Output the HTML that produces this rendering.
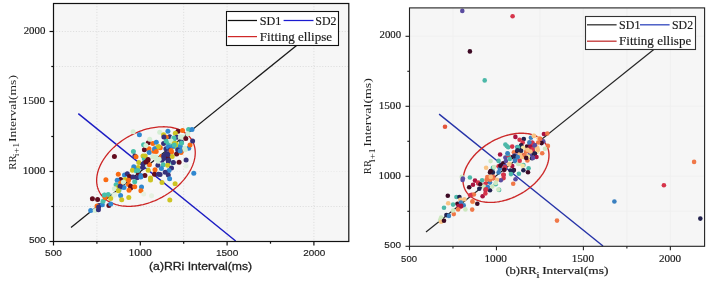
<!DOCTYPE html>
<html><head><meta charset="utf-8"><style>
html,body{margin:0;padding:0;background:#fff;}
body{width:708px;height:283px;overflow:hidden;position:relative;}
svg{position:absolute;left:0;top:0;will-change:transform;}
.serif{font-family:"Liberation Serif",serif;}
.sans{font-family:"Liberation Sans",sans-serif;}
</style></head><body>
<svg width="708" height="283" viewBox="0 0 708 283">
<rect x="53.50" y="3.50" width="295.30" height="238.00" fill="#f6f6f6"/>
<line x1="96.90" y1="3.50" x2="96.90" y2="241.50" stroke="#d4d4d4" stroke-width="0.8" stroke-dasharray="1 1.8"/>
<line x1="183.70" y1="3.50" x2="183.70" y2="241.50" stroke="#d4d4d4" stroke-width="0.8" stroke-dasharray="1 1.8"/>
<line x1="227.10" y1="3.50" x2="227.10" y2="241.50" stroke="#d4d4d4" stroke-width="0.8" stroke-dasharray="1 1.8"/>
<line x1="313.90" y1="3.50" x2="313.90" y2="241.50" stroke="#d4d4d4" stroke-width="0.8" stroke-dasharray="1 1.8"/>
<line x1="53.50" y1="206.50" x2="348.80" y2="206.50" stroke="#d4d4d4" stroke-width="0.8" stroke-dasharray="1 1.8"/>
<line x1="53.50" y1="66.50" x2="348.80" y2="66.50" stroke="#d4d4d4" stroke-width="0.8" stroke-dasharray="1 1.8"/>
<line x1="53.50" y1="31.50" x2="348.80" y2="31.50" stroke="#d4d4d4" stroke-width="0.8" stroke-dasharray="1 1.8"/>
<line x1="53.5" y1="171.50" x2="348.8" y2="171.50" stroke="#e6e6e6" stroke-width="0.8" stroke-dasharray="1 1.8"/>
<line x1="71" y1="227.5" x2="313.90" y2="31.50" stroke="#1a1a1a" stroke-width="1.25"/>
<line x1="78.3" y1="113.6" x2="235.7" y2="241" stroke="#1c1cc4" stroke-width="1.45"/>
<path d="M186.45 133.86 L185.45 133.09 L184.39 132.36 L183.29 131.67 L182.14 131.02 L180.95 130.42 L179.72 129.86 L178.45 129.35 L177.13 128.88 L175.78 128.46 L174.39 128.08 L172.97 127.75 L171.51 127.47 L170.03 127.23 L168.51 127.04 L166.97 126.90 L165.40 126.81 L163.81 126.77 L162.19 126.78 L160.56 126.83 L158.90 126.93 L157.24 127.08 L155.55 127.28 L153.86 127.53 L152.16 127.82 L150.45 128.17 L148.73 128.55 L147.01 128.99 L145.29 129.47 L143.57 129.99 L141.85 130.56 L140.14 131.18 L138.43 131.83 L136.74 132.53 L135.05 133.27 L133.38 134.05 L131.73 134.87 L130.09 135.73 L128.47 136.63 L126.87 137.56 L125.29 138.53 L123.74 139.53 L122.22 140.57 L120.73 141.64 L119.26 142.73 L117.83 143.86 L116.43 145.01 L115.07 146.19 L113.75 147.40 L112.47 148.63 L111.22 149.88 L110.02 151.15 L108.87 152.44 L107.75 153.74 L106.69 155.06 L105.67 156.40 L104.70 157.75 L103.79 159.11 L102.92 160.48 L102.10 161.85 L101.34 163.23 L100.64 164.62 L99.99 166.00 L99.39 167.39 L98.85 168.78 L98.37 170.16 L97.95 171.54 L97.58 172.92 L97.28 174.28 L97.03 175.64 L96.84 176.98 L96.71 178.32 L96.65 179.63 L96.64 180.94 L96.69 182.22 L96.81 183.49 L96.98 184.73 L97.21 185.95 L97.50 187.15 L97.85 188.33 L98.26 189.47 L98.73 190.59 L99.25 191.68 L99.84 192.74 L100.47 193.77 L101.17 194.77 L101.92 195.73 L102.72 196.65 L103.57 197.54 L104.48 198.39 L105.43 199.20 L106.44 199.97 L107.49 200.70 L108.59 201.39 L109.74 202.04 L110.93 202.64 L112.16 203.20 L113.44 203.71 L114.75 204.18 L116.10 204.60 L117.49 204.98 L118.91 205.31 L120.37 205.59 L121.86 205.83 L123.37 206.02 L124.92 206.16 L126.48 206.25 L128.08 206.29 L129.69 206.28 L131.33 206.23 L132.98 206.13 L134.65 205.98 L136.33 205.78 L138.02 205.53 L139.73 205.24 L141.44 204.89 L143.15 204.51 L144.87 204.07 L146.59 203.59 L148.31 203.07 L150.03 202.50 L151.74 201.88 L153.45 201.23 L155.15 200.53 L156.83 199.79 L158.50 199.01 L160.16 198.19 L161.80 197.33 L163.42 196.43 L165.02 195.50 L166.59 194.53 L168.14 193.53 L169.66 192.49 L171.16 191.42 L172.62 190.33 L174.05 189.20 L175.45 188.05 L176.81 186.87 L178.13 185.66 L179.42 184.43 L180.66 183.18 L181.86 181.91 L183.02 180.62 L184.13 179.32 L185.19 178.00 L186.21 176.66 L187.18 175.31 L188.10 173.95 L188.97 172.58 L189.78 171.21 L190.54 169.83 L191.25 168.44 L191.90 167.06 L192.49 165.67 L193.03 164.28 L193.51 162.90 L193.94 161.52 L194.30 160.14 L194.61 158.78 L194.86 157.42 L195.04 156.08 L195.17 154.74 L195.24 153.43 L195.24 152.12 L195.19 150.84 L195.08 149.57 L194.91 148.33 L194.67 147.11 L194.38 145.91 L194.03 144.73 L193.62 143.59 L193.15 142.47 L192.63 141.38 L192.05 140.32 L191.41 139.29 L190.72 138.29 L189.97 137.33 L189.17 136.41 L188.31 135.52 L187.41 134.67 L186.45 133.86Z" fill="none" stroke="#cc2424" stroke-width="1.3"/>
<circle cx="133.1" cy="131.8" r="2.5" fill="#d4eed4"/>
<circle cx="139.4" cy="134.7" r="2.5" fill="#3088d0"/>
<circle cx="143.6" cy="144.8" r="2.5" fill="#48c0aa"/>
<circle cx="148.3" cy="142.7" r="2.5" fill="#630c1e"/>
<circle cx="152.9" cy="143.4" r="2.5" fill="#fa6a12"/>
<circle cx="156.3" cy="142.3" r="2.5" fill="#3088d0"/>
<circle cx="149.7" cy="139.2" r="2.5" fill="#d4eed4"/>
<circle cx="144.4" cy="149.8" r="2.5" fill="#630c1e"/>
<circle cx="149.0" cy="148.8" r="2.5" fill="#fa6a12"/>
<circle cx="149.2" cy="152.6" r="2.5" fill="#3088d0"/>
<circle cx="153.9" cy="151.2" r="2.5" fill="#fa6a12"/>
<circle cx="133.4" cy="151.6" r="2.5" fill="#48c0aa"/>
<circle cx="114.4" cy="156.4" r="2.5" fill="#630c1e"/>
<circle cx="134.8" cy="155.9" r="2.5" fill="#36307a"/>
<circle cx="136.0" cy="156.8" r="2.5" fill="#fa6a12"/>
<circle cx="143.0" cy="155.9" r="2.5" fill="#cdc422"/>
<circle cx="156.7" cy="147.7" r="2.5" fill="#cdc422"/>
<circle cx="167.9" cy="131.3" r="2.5" fill="#3088d0"/>
<circle cx="178.0" cy="131.3" r="2.5" fill="#630c1e"/>
<circle cx="182.5" cy="130.4" r="2.5" fill="#fa6a12"/>
<circle cx="159.7" cy="132.2" r="2.5" fill="#d4eed4"/>
<circle cx="163.6" cy="134.7" r="2.5" fill="#cdc422"/>
<circle cx="175.3" cy="133.3" r="2.5" fill="#cdc422"/>
<circle cx="169.6" cy="136.7" r="2.5" fill="#36307a"/>
<circle cx="166.2" cy="137.2" r="2.5" fill="#fa6a12"/>
<circle cx="173.2" cy="138.0" r="2.5" fill="#d4eed4"/>
<circle cx="176.9" cy="137.2" r="2.5" fill="#36307a"/>
<circle cx="173.8" cy="140.9" r="2.5" fill="#48c0aa"/>
<circle cx="181.4" cy="142.0" r="2.5" fill="#36307a"/>
<circle cx="181.4" cy="137.0" r="2.5" fill="#d4eed4"/>
<circle cx="163.6" cy="143.5" r="2.5" fill="#36307a"/>
<circle cx="168.2" cy="143.2" r="2.5" fill="#48c0aa"/>
<circle cx="172.1" cy="146.0" r="2.5" fill="#48c0aa"/>
<circle cx="176.1" cy="143.7" r="2.5" fill="#cdc422"/>
<circle cx="180.0" cy="146.0" r="2.5" fill="#48c0aa"/>
<circle cx="160.3" cy="147.7" r="2.5" fill="#fa6a12"/>
<circle cx="154.6" cy="148.8" r="2.5" fill="#3088d0"/>
<circle cx="165.9" cy="148.8" r="2.5" fill="#36307a"/>
<circle cx="168.2" cy="147.1" r="2.5" fill="#3088d0"/>
<circle cx="170.4" cy="150.0" r="2.5" fill="#36307a"/>
<circle cx="175.5" cy="146.6" r="2.5" fill="#cdc422"/>
<circle cx="177.8" cy="149.4" r="2.5" fill="#3088d0"/>
<circle cx="181.7" cy="150.5" r="2.5" fill="#fa6a12"/>
<circle cx="145.9" cy="145.4" r="2.5" fill="#d4eed4"/>
<circle cx="138.8" cy="162.6" r="2.5" fill="#cdc422"/>
<circle cx="143.0" cy="164.0" r="2.5" fill="#36307a"/>
<circle cx="133.8" cy="166.8" r="2.5" fill="#3088d0"/>
<circle cx="156.2" cy="151.4" r="2.5" fill="#fa6a12"/>
<circle cx="144.3" cy="158.8" r="2.5" fill="#48c0aa"/>
<circle cx="147.7" cy="160.7" r="2.5" fill="#630c1e"/>
<circle cx="152.8" cy="156.8" r="2.5" fill="#d4eed4"/>
<circle cx="156.2" cy="159.0" r="2.5" fill="#d4eed4"/>
<circle cx="144.3" cy="163.0" r="2.5" fill="#36307a"/>
<circle cx="147.7" cy="165.8" r="2.5" fill="#d4eed4"/>
<circle cx="149.4" cy="164.7" r="2.5" fill="#fa6a12"/>
<circle cx="157.9" cy="165.3" r="2.5" fill="#36307a"/>
<circle cx="138.1" cy="167.5" r="2.5" fill="#cdc422"/>
<circle cx="142.6" cy="167.5" r="2.5" fill="#36307a"/>
<circle cx="134.1" cy="168.1" r="2.5" fill="#3088d0"/>
<circle cx="132.4" cy="170.3" r="2.5" fill="#cdc422"/>
<circle cx="136.4" cy="170.9" r="2.5" fill="#48c0aa"/>
<circle cx="148.2" cy="170.3" r="2.5" fill="#cdc422"/>
<circle cx="155.0" cy="169.8" r="2.5" fill="#fa6a12"/>
<circle cx="154.5" cy="174.3" r="2.5" fill="#630c1e"/>
<circle cx="138.6" cy="173.7" r="2.5" fill="#630c1e"/>
<circle cx="140.9" cy="175.4" r="2.5" fill="#3088d0"/>
<circle cx="144.9" cy="175.4" r="2.5" fill="#630c1e"/>
<circle cx="150.5" cy="178.0" r="2.5" fill="#cdc422"/>
<circle cx="124.5" cy="174.9" r="2.5" fill="#3088d0"/>
<circle cx="127.3" cy="173.7" r="2.5" fill="#36307a"/>
<circle cx="129.6" cy="176.6" r="2.5" fill="#630c1e"/>
<circle cx="133.0" cy="177.1" r="2.5" fill="#36307a"/>
<circle cx="137.0" cy="177.7" r="2.5" fill="#36307a"/>
<circle cx="125.1" cy="179.4" r="2.5" fill="#cdc422"/>
<circle cx="128.5" cy="180.3" r="2.5" fill="#fa6a12"/>
<circle cx="120.6" cy="179.4" r="2.5" fill="#630c1e"/>
<circle cx="158.4" cy="161.3" r="2.5" fill="#d4eed4"/>
<circle cx="158.4" cy="174.3" r="2.5" fill="#36307a"/>
<circle cx="105.9" cy="179.7" r="2.5" fill="#fa6a12"/>
<circle cx="118.3" cy="174.3" r="2.5" fill="#fa6a12"/>
<circle cx="117.2" cy="180.3" r="2.5" fill="#3088d0"/>
<circle cx="120.6" cy="182.9" r="2.5" fill="#fa6a12"/>
<circle cx="116.1" cy="184.8" r="2.5" fill="#48c0aa"/>
<circle cx="123.4" cy="182.0" r="2.5" fill="#d4eed4"/>
<circle cx="117.8" cy="187.6" r="2.5" fill="#cdc422"/>
<circle cx="121.2" cy="187.0" r="2.5" fill="#36307a"/>
<circle cx="124.0" cy="187.6" r="2.5" fill="#3088d0"/>
<circle cx="114.4" cy="188.7" r="2.5" fill="#d4eed4"/>
<circle cx="118.9" cy="190.4" r="2.5" fill="#48c0aa"/>
<circle cx="104.8" cy="195.3" r="2.5" fill="#3088d0"/>
<circle cx="108.2" cy="194.6" r="2.5" fill="#48c0aa"/>
<circle cx="113.8" cy="195.0" r="2.5" fill="#d4eed4"/>
<circle cx="120.6" cy="195.5" r="2.5" fill="#3088d0"/>
<circle cx="128.5" cy="184.5" r="2.5" fill="#fa6a12"/>
<circle cx="130.7" cy="186.2" r="2.5" fill="#630c1e"/>
<circle cx="130.7" cy="187.9" r="2.5" fill="#630c1e"/>
<circle cx="129.0" cy="190.2" r="2.5" fill="#fa6a12"/>
<circle cx="134.7" cy="181.7" r="2.5" fill="#48c0aa"/>
<circle cx="134.7" cy="186.8" r="2.5" fill="#fa6a12"/>
<circle cx="141.5" cy="187.0" r="2.5" fill="#3088d0"/>
<circle cx="140.9" cy="190.7" r="2.5" fill="#fa6a12"/>
<circle cx="143.7" cy="194.1" r="2.5" fill="#e6f1e2"/>
<circle cx="151.6" cy="195.8" r="2.5" fill="#e6f1e2"/>
<circle cx="121.7" cy="199.8" r="2.5" fill="#cdc422"/>
<circle cx="128.8" cy="197.5" r="2.5" fill="#cdc422"/>
<circle cx="120.0" cy="186.2" r="2.5" fill="#36307a"/>
<circle cx="150.5" cy="180.0" r="2.5" fill="#cdc422"/>
<circle cx="180.4" cy="146.9" r="2.5" fill="#3088d0"/>
<circle cx="188.7" cy="148.2" r="2.5" fill="#3088d0"/>
<circle cx="190.0" cy="145.0" r="2.5" fill="#fa6a12"/>
<circle cx="171.5" cy="152.0" r="2.5" fill="#fa6a12"/>
<circle cx="176.6" cy="153.9" r="2.5" fill="#630c1e"/>
<circle cx="181.0" cy="152.6" r="2.5" fill="#fa6a12"/>
<circle cx="165.2" cy="155.2" r="2.5" fill="#36307a"/>
<circle cx="167.7" cy="157.7" r="2.5" fill="#630c1e"/>
<circle cx="172.2" cy="156.4" r="2.5" fill="#cdc422"/>
<circle cx="161.4" cy="156.4" r="2.5" fill="#fa6a12"/>
<circle cx="162.0" cy="160.2" r="2.5" fill="#36307a"/>
<circle cx="168.3" cy="161.5" r="2.5" fill="#36307a"/>
<circle cx="179.1" cy="162.2" r="2.5" fill="#630c1e"/>
<circle cx="186.1" cy="160.0" r="2.5" fill="#36307a"/>
<circle cx="172.8" cy="162.8" r="2.5" fill="#48c0aa"/>
<circle cx="163.3" cy="164.7" r="2.5" fill="#48c0aa"/>
<circle cx="167.7" cy="165.3" r="2.5" fill="#cdc422"/>
<circle cx="186.1" cy="166.0" r="2.5" fill="#e6f1e2"/>
<circle cx="161.4" cy="168.5" r="2.5" fill="#3088d0"/>
<circle cx="171.5" cy="167.9" r="2.5" fill="#36307a"/>
<circle cx="169.0" cy="170.4" r="2.5" fill="#3088d0"/>
<circle cx="165.2" cy="172.3" r="2.5" fill="#36307a"/>
<circle cx="160.1" cy="174.5" r="2.5" fill="#36307a"/>
<circle cx="168.3" cy="174.9" r="2.5" fill="#36307a"/>
<circle cx="193.8" cy="173.2" r="2.5" fill="#3088d0"/>
<circle cx="169.6" cy="178.7" r="2.5" fill="#3088d0"/>
<circle cx="188.6" cy="129.6" r="2.5" fill="#48c0aa"/>
<circle cx="192.0" cy="129.6" r="2.5" fill="#3088d0"/>
<circle cx="183.0" cy="137.0" r="2.5" fill="#d4eed4"/>
<circle cx="185.8" cy="138.6" r="2.5" fill="#630c1e"/>
<circle cx="192.6" cy="140.9" r="2.5" fill="#36307a"/>
<circle cx="180.2" cy="137.0" r="2.5" fill="#d4eed4"/>
<circle cx="174.0" cy="138.1" r="2.5" fill="#48c0aa"/>
<circle cx="172.8" cy="146.6" r="2.5" fill="#3088d0"/>
<circle cx="184.7" cy="148.2" r="2.5" fill="#d4eed4"/>
<circle cx="171.1" cy="150.5" r="2.5" fill="#fa6a12"/>
<circle cx="177.9" cy="150.0" r="2.5" fill="#36307a"/>
<circle cx="180.2" cy="151.1" r="2.5" fill="#3088d0"/>
<circle cx="92.4" cy="198.7" r="2.5" fill="#630c1e"/>
<circle cx="97.6" cy="199.5" r="2.5" fill="#630c1e"/>
<circle cx="90.7" cy="210.4" r="2.5" fill="#3088d0"/>
<circle cx="95.2" cy="210.4" r="2.5" fill="#d4eed4"/>
<circle cx="98.4" cy="209.7" r="2.5" fill="#36307a"/>
<circle cx="99.0" cy="205.5" r="2.5" fill="#36307a"/>
<circle cx="97.0" cy="205.9" r="2.5" fill="#fa6a12"/>
<circle cx="102.3" cy="204.8" r="2.5" fill="#3088d0"/>
<circle cx="103.0" cy="201.2" r="2.5" fill="#48c0aa"/>
<circle cx="105.1" cy="197.4" r="2.5" fill="#fa6a12"/>
<circle cx="104.4" cy="194.9" r="2.5" fill="#48c0aa"/>
<circle cx="110.7" cy="198.4" r="2.5" fill="#cdc422"/>
<circle cx="108.9" cy="205.5" r="2.5" fill="#630c1e"/>
<circle cx="110.7" cy="204.1" r="2.5" fill="#3088d0"/>
<circle cx="162.0" cy="182.4" r="2.5" fill="#cdc422"/>
<circle cx="175.1" cy="183.8" r="2.5" fill="#cdc422"/>
<circle cx="169.8" cy="200.1" r="2.5" fill="#cdc422"/>
<circle cx="118.3" cy="190.7" r="2.5" fill="#cdc422"/>
<circle cx="115.0" cy="194.7" r="2.5" fill="#e6f1e2"/>
<circle cx="98.6" cy="207.1" r="2.5" fill="#36307a"/>
<circle cx="166.1" cy="141.1" r="2.5" fill="#48c0aa"/>
<circle cx="171.1" cy="141.1" r="2.5" fill="#d4eed4"/>
<circle cx="174.2" cy="143.5" r="2.5" fill="#cdc422"/>
<circle cx="181.6" cy="142.9" r="2.5" fill="#48c0aa"/>
<circle cx="187.8" cy="133.7" r="2.5" fill="#d4eed4"/>
<circle cx="185.3" cy="149.7" r="2.5" fill="#d4eed4"/>
<circle cx="166.7" cy="153.4" r="2.5" fill="#36307a"/>
<circle cx="158.7" cy="146.6" r="2.5" fill="#cdc422"/>
<circle cx="163.7" cy="155.9" r="2.5" fill="#36307a"/>
<circle cx="163.9" cy="136.9" r="2.5" fill="#36307a"/>
<circle cx="167.9" cy="154.5" r="2.5" fill="#36307a"/>
<circle cx="163.9" cy="158.4" r="2.5" fill="#36307a"/>
<circle cx="168.7" cy="160.0" r="2.5" fill="#36307a"/>
<circle cx="174.2" cy="144.9" r="2.5" fill="#48c0aa"/>
<circle cx="155.9" cy="156.8" r="2.5" fill="#d4eed4"/>
<circle cx="159.1" cy="159.2" r="2.5" fill="#d4eed4"/>
<circle cx="173.4" cy="162.4" r="2.5" fill="#36307a"/>
<circle cx="137.9" cy="170.5" r="2.5" fill="#48c0aa"/>
<circle cx="140.8" cy="176.9" r="2.5" fill="#3088d0"/>
<circle cx="145.2" cy="156.0" r="2.5" fill="#cdc422"/>
<circle cx="148.1" cy="159.4" r="2.5" fill="#630c1e"/>
<circle cx="146.0" cy="162.0" r="2.5" fill="#630c1e"/>
<rect x="409.50" y="7.90" width="295.10" height="238.40" fill="#f6f6f6"/>
<line x1="452.98" y1="7.90" x2="452.98" y2="246.30" stroke="#efefef" stroke-width="0.8"/>
<line x1="539.92" y1="7.90" x2="539.92" y2="246.30" stroke="#efefef" stroke-width="0.8"/>
<line x1="583.40" y1="7.90" x2="583.40" y2="246.30" stroke="#efefef" stroke-width="0.8"/>
<line x1="626.88" y1="7.90" x2="626.88" y2="246.30" stroke="#efefef" stroke-width="0.8"/>
<line x1="670.35" y1="7.90" x2="670.35" y2="246.30" stroke="#efefef" stroke-width="0.8"/>
<line x1="409.50" y1="211.30" x2="704.60" y2="211.30" stroke="#efefef" stroke-width="0.8"/>
<line x1="409.50" y1="176.30" x2="704.60" y2="176.30" stroke="#efefef" stroke-width="0.8"/>
<line x1="409.50" y1="106.30" x2="704.60" y2="106.30" stroke="#efefef" stroke-width="0.8"/>
<line x1="409.50" y1="36.30" x2="704.60" y2="36.30" stroke="#efefef" stroke-width="0.8"/>
<line x1="426" y1="232" x2="670.35" y2="36.30" stroke="#262626" stroke-width="1.2"/>
<line x1="439.1" y1="114.1" x2="603" y2="246" stroke="#2633a8" stroke-width="1.4"/>
<path d="M541.49 139.27 L540.62 138.61 L539.71 137.98 L538.76 137.39 L537.77 136.83 L536.74 136.32 L535.68 135.84 L534.58 135.40 L533.44 135.00 L532.27 134.64 L531.07 134.32 L529.83 134.04 L528.57 133.81 L527.28 133.61 L525.97 133.46 L524.63 133.35 L523.26 133.28 L521.88 133.25 L520.48 133.26 L519.06 133.32 L517.62 133.42 L516.17 133.56 L514.71 133.74 L513.23 133.96 L511.75 134.23 L510.26 134.53 L508.77 134.88 L507.27 135.27 L505.77 135.69 L504.27 136.16 L502.77 136.66 L501.28 137.20 L499.79 137.78 L498.31 138.40 L496.84 139.05 L495.38 139.74 L493.94 140.46 L492.51 141.21 L491.09 142.00 L489.70 142.82 L488.32 143.66 L486.96 144.54 L485.63 145.45 L484.32 146.38 L483.04 147.34 L481.79 148.33 L480.57 149.34 L479.37 150.37 L478.21 151.42 L477.09 152.49 L476.00 153.58 L474.94 154.69 L473.93 155.82 L472.95 156.96 L472.01 158.11 L471.12 159.27 L470.26 160.45 L469.46 161.63 L468.69 162.82 L467.97 164.02 L467.30 165.22 L466.67 166.43 L466.09 167.63 L465.56 168.84 L465.08 170.05 L464.65 171.25 L464.27 172.45 L463.95 173.64 L463.67 174.83 L463.44 176.00 L463.27 177.17 L463.15 178.33 L463.08 179.47 L463.06 180.60 L463.09 181.72 L463.18 182.81 L463.32 183.89 L463.51 184.95 L463.75 185.99 L464.05 187.00 L464.39 188.00 L464.79 188.97 L465.24 189.91 L465.73 190.82 L466.28 191.71 L466.87 192.57 L467.51 193.40 L468.20 194.20 L468.94 194.96 L469.72 195.69 L470.54 196.39 L471.41 197.05 L472.32 197.68 L473.27 198.27 L474.26 198.83 L475.28 199.34 L476.35 199.82 L477.45 200.26 L478.59 200.66 L479.76 201.02 L480.96 201.34 L482.20 201.62 L483.46 201.85 L484.75 202.05 L486.06 202.20 L487.40 202.31 L488.77 202.38 L490.15 202.41 L491.55 202.40 L492.97 202.34 L494.41 202.24 L495.86 202.10 L497.32 201.92 L498.80 201.70 L500.28 201.43 L501.77 201.13 L503.26 200.78 L504.76 200.39 L506.26 199.97 L507.76 199.50 L509.26 199.00 L510.75 198.46 L512.24 197.88 L513.72 197.26 L515.19 196.61 L516.64 195.92 L518.09 195.20 L519.52 194.45 L520.94 193.66 L522.33 192.84 L523.71 192.00 L525.07 191.12 L526.40 190.21 L527.71 189.28 L528.99 188.32 L530.24 187.33 L531.46 186.32 L532.65 185.29 L533.81 184.24 L534.94 183.17 L536.03 182.08 L537.09 180.97 L538.10 179.84 L539.08 178.70 L540.02 177.55 L540.91 176.39 L541.76 175.21 L542.57 174.03 L543.34 172.84 L544.06 171.64 L544.73 170.44 L545.36 169.23 L545.94 168.03 L546.46 166.82 L546.94 165.61 L547.37 164.41 L547.75 163.21 L548.08 162.02 L548.36 160.83 L548.59 159.66 L548.76 158.49 L548.88 157.33 L548.95 156.19 L548.97 155.06 L548.94 153.94 L548.85 152.85 L548.71 151.77 L548.52 150.71 L548.28 149.67 L547.98 148.66 L547.64 147.66 L547.24 146.69 L546.79 145.75 L546.30 144.84 L545.75 143.95 L545.16 143.09 L544.52 142.26 L543.83 141.46 L543.09 140.70 L542.31 139.97 L541.49 139.27Z" fill="none" stroke="#cc2a2a" stroke-width="1.4"/>
<circle cx="462.3" cy="10.9" r="2.3" fill="#5a4ca0"/>
<circle cx="512.6" cy="16.2" r="2.3" fill="#d6344a"/>
<circle cx="469.9" cy="51.4" r="2.3" fill="#3d0a24"/>
<circle cx="484.7" cy="80.4" r="2.3" fill="#4cb8a8"/>
<circle cx="445.0" cy="126.8" r="2.3" fill="#e4563c"/>
<circle cx="557.0" cy="220.6" r="2.3" fill="#f07848"/>
<circle cx="614.4" cy="201.5" r="2.3" fill="#3a80c0"/>
<circle cx="663.9" cy="185.2" r="2.3" fill="#d6344a"/>
<circle cx="694.1" cy="161.9" r="2.3" fill="#f07848"/>
<circle cx="700.3" cy="218.6" r="2.3" fill="#22224e"/>
<circle cx="447.8" cy="195.7" r="2.3" fill="#3d0a24"/>
<circle cx="448.2" cy="203.2" r="2.3" fill="#f9c283"/>
<circle cx="444.0" cy="207.7" r="2.3" fill="#4cb8a8"/>
<circle cx="453.1" cy="204.6" r="2.3" fill="#4cb8a8"/>
<circle cx="446.4" cy="215.1" r="2.3" fill="#22224e"/>
<circle cx="448.9" cy="215.9" r="2.3" fill="#3a80c0"/>
<circle cx="441.1" cy="217.6" r="2.3" fill="#cde8c0"/>
<circle cx="440.1" cy="220.1" r="2.3" fill="#cde8c0"/>
<circle cx="441.1" cy="221.8" r="2.3" fill="#f9c283"/>
<circle cx="444.0" cy="220.7" r="2.3" fill="#3d0a24"/>
<circle cx="453.8" cy="214.1" r="2.3" fill="#f07848"/>
<circle cx="453.1" cy="210.5" r="2.3" fill="#cde8c0"/>
<circle cx="456.4" cy="197.0" r="2.3" fill="#4cb8a8"/>
<circle cx="459.4" cy="197.0" r="2.3" fill="#22224e"/>
<circle cx="464.3" cy="199.2" r="2.3" fill="#f9c283"/>
<circle cx="460.3" cy="199.8" r="2.3" fill="#f9c283"/>
<circle cx="457.5" cy="203.7" r="2.3" fill="#3d0a24"/>
<circle cx="460.9" cy="202.6" r="2.3" fill="#3a80c0"/>
<circle cx="458.6" cy="206.0" r="2.3" fill="#a8123f"/>
<circle cx="463.7" cy="205.4" r="2.3" fill="#3a80c0"/>
<circle cx="460.9" cy="206.6" r="2.3" fill="#d6344a"/>
<circle cx="458.1" cy="209.4" r="2.3" fill="#f07848"/>
<circle cx="465.4" cy="209.4" r="2.3" fill="#cde8c0"/>
<circle cx="472.2" cy="209.6" r="2.3" fill="#f07848"/>
<circle cx="472.8" cy="202.0" r="2.3" fill="#f9c283"/>
<circle cx="477.3" cy="203.7" r="2.3" fill="#3d0a24"/>
<circle cx="471.6" cy="194.7" r="2.3" fill="#d6344a"/>
<circle cx="473.9" cy="194.5" r="2.3" fill="#f07848"/>
<circle cx="469.2" cy="187.3" r="2.3" fill="#3d0a24"/>
<circle cx="473.0" cy="184.7" r="2.3" fill="#a8123f"/>
<circle cx="475.0" cy="180.6" r="2.3" fill="#a8123f"/>
<circle cx="478.4" cy="183.4" r="2.3" fill="#a8123f"/>
<circle cx="462.6" cy="180.0" r="2.3" fill="#5a4ca0"/>
<circle cx="461.8" cy="176.9" r="2.3" fill="#cde8c0"/>
<circle cx="462.9" cy="178.6" r="2.3" fill="#5a4ca0"/>
<circle cx="469.9" cy="177.5" r="2.3" fill="#4cb8a8"/>
<circle cx="478.2" cy="182.6" r="2.3" fill="#d6344a"/>
<circle cx="480.4" cy="184.3" r="2.3" fill="#3d0a24"/>
<circle cx="482.1" cy="180.3" r="2.3" fill="#4cb8a8"/>
<circle cx="486.6" cy="179.8" r="2.3" fill="#f07848"/>
<circle cx="485.5" cy="183.7" r="2.3" fill="#d6344a"/>
<circle cx="490.0" cy="182.6" r="2.3" fill="#3a80c0"/>
<circle cx="486.1" cy="167.7" r="2.3" fill="#f9c283"/>
<circle cx="490.0" cy="172.4" r="2.3" fill="#3d0a24"/>
<circle cx="492.9" cy="167.9" r="2.3" fill="#4cb8a8"/>
<circle cx="490.6" cy="161.1" r="2.3" fill="#cde8c0"/>
<circle cx="492.9" cy="176.4" r="2.3" fill="#f07848"/>
<circle cx="479.3" cy="188.8" r="2.3" fill="#22224e"/>
<circle cx="483.8" cy="186.6" r="2.3" fill="#cde8c0"/>
<circle cx="485.5" cy="189.9" r="2.3" fill="#a8123f"/>
<circle cx="490.0" cy="190.3" r="2.3" fill="#22224e"/>
<circle cx="492.9" cy="172.4" r="2.3" fill="#22224e"/>
<circle cx="487.8" cy="187.1" r="2.3" fill="#3a80c0"/>
<circle cx="505.4" cy="144.5" r="2.3" fill="#4cb8a8"/>
<circle cx="508.2" cy="147.3" r="2.3" fill="#4cb8a8"/>
<circle cx="512.2" cy="146.6" r="2.3" fill="#d6344a"/>
<circle cx="500.1" cy="154.5" r="2.3" fill="#a8123f"/>
<circle cx="513.9" cy="152.2" r="2.3" fill="#f07848"/>
<circle cx="517.3" cy="151.3" r="2.3" fill="#3d0a24"/>
<circle cx="516.2" cy="155.8" r="2.3" fill="#5a4ca0"/>
<circle cx="505.4" cy="157.5" r="2.3" fill="#5a4ca0"/>
<circle cx="508.2" cy="155.3" r="2.3" fill="#d6344a"/>
<circle cx="512.8" cy="157.0" r="2.3" fill="#3d0a24"/>
<circle cx="498.6" cy="160.9" r="2.3" fill="#4cb8a8"/>
<circle cx="503.2" cy="163.2" r="2.3" fill="#3d0a24"/>
<circle cx="515.0" cy="159.8" r="2.3" fill="#3a80c0"/>
<circle cx="509.4" cy="163.7" r="2.3" fill="#f3e3a0"/>
<circle cx="494.1" cy="167.1" r="2.3" fill="#cde8c0"/>
<circle cx="498.6" cy="166.2" r="2.3" fill="#d6344a"/>
<circle cx="499.8" cy="168.8" r="2.3" fill="#3a80c0"/>
<circle cx="504.3" cy="169.4" r="2.3" fill="#a8123f"/>
<circle cx="512.2" cy="166.0" r="2.3" fill="#a8123f"/>
<circle cx="504.9" cy="166.0" r="2.3" fill="#5a4ca0"/>
<circle cx="510.5" cy="170.5" r="2.3" fill="#22224e"/>
<circle cx="513.9" cy="170.0" r="2.3" fill="#3d0a24"/>
<circle cx="490.7" cy="171.1" r="2.3" fill="#3d0a24"/>
<circle cx="515.4" cy="136.9" r="2.3" fill="#a8123f"/>
<circle cx="519.6" cy="139.7" r="2.3" fill="#d6344a"/>
<circle cx="523.8" cy="139.1" r="2.3" fill="#22224e"/>
<circle cx="522.7" cy="142.5" r="2.3" fill="#d6344a"/>
<circle cx="530.9" cy="137.7" r="2.3" fill="#3a80c0"/>
<circle cx="533.7" cy="135.7" r="2.3" fill="#f3e3a0"/>
<circle cx="538.8" cy="138.3" r="2.3" fill="#f9c283"/>
<circle cx="543.9" cy="134.0" r="2.3" fill="#a8123f"/>
<circle cx="547.3" cy="133.5" r="2.3" fill="#f07848"/>
<circle cx="543.3" cy="141.4" r="2.3" fill="#5a4ca0"/>
<circle cx="541.6" cy="143.1" r="2.3" fill="#3d0a24"/>
<circle cx="538.2" cy="142.5" r="2.3" fill="#f07848"/>
<circle cx="521.3" cy="145.3" r="2.3" fill="#3d0a24"/>
<circle cx="517.3" cy="147.0" r="2.3" fill="#3a80c0"/>
<circle cx="529.8" cy="143.1" r="2.3" fill="#5a4ca0"/>
<circle cx="527.0" cy="146.5" r="2.3" fill="#3d0a24"/>
<circle cx="532.6" cy="144.8" r="2.3" fill="#d6344a"/>
<circle cx="534.3" cy="146.5" r="2.3" fill="#3a80c0"/>
<circle cx="537.1" cy="147.6" r="2.3" fill="#f9c283"/>
<circle cx="547.9" cy="145.9" r="2.3" fill="#f07848"/>
<circle cx="545.0" cy="148.7" r="2.3" fill="#cde8c0"/>
<circle cx="520.7" cy="149.3" r="2.3" fill="#22224e"/>
<circle cx="528.6" cy="151.0" r="2.3" fill="#f07848"/>
<circle cx="532.6" cy="150.4" r="2.3" fill="#a8123f"/>
<circle cx="537.1" cy="151.6" r="2.3" fill="#f3e3a0"/>
<circle cx="521.3" cy="153.8" r="2.3" fill="#f9c283"/>
<circle cx="530.9" cy="154.4" r="2.3" fill="#22224e"/>
<circle cx="534.9" cy="153.8" r="2.3" fill="#3d0a24"/>
<circle cx="542.2" cy="153.2" r="2.3" fill="#f07848"/>
<circle cx="514.5" cy="155.5" r="2.3" fill="#5a4ca0"/>
<circle cx="523.6" cy="155.5" r="2.3" fill="#d6344a"/>
<circle cx="534.0" cy="135.9" r="2.3" fill="#f9c283"/>
<circle cx="540.2" cy="138.7" r="2.3" fill="#f07848"/>
<circle cx="532.3" cy="142.7" r="2.3" fill="#a8123f"/>
<circle cx="505.9" cy="161.1" r="2.3" fill="#5a4ca0"/>
<circle cx="509.3" cy="164.5" r="2.3" fill="#f9c283"/>
<circle cx="515.0" cy="161.1" r="2.3" fill="#3a80c0"/>
<circle cx="518.3" cy="164.0" r="2.3" fill="#cde8c0"/>
<circle cx="523.4" cy="165.1" r="2.3" fill="#4cb8a8"/>
<circle cx="513.2" cy="170.7" r="2.3" fill="#22224e"/>
<circle cx="523.4" cy="170.2" r="2.3" fill="#22224e"/>
<circle cx="498.6" cy="172.4" r="2.3" fill="#3a80c0"/>
<circle cx="503.6" cy="174.7" r="2.3" fill="#a8123f"/>
<circle cx="511.0" cy="174.1" r="2.3" fill="#4cb8a8"/>
<circle cx="518.9" cy="173.8" r="2.3" fill="#4cb8a8"/>
<circle cx="503.6" cy="178.1" r="2.3" fill="#d6344a"/>
<circle cx="500.8" cy="180.3" r="2.3" fill="#5a4ca0"/>
<circle cx="515.5" cy="179.2" r="2.3" fill="#5a4ca0"/>
<circle cx="487.3" cy="177.0" r="2.3" fill="#f07848"/>
<circle cx="493.5" cy="178.1" r="2.3" fill="#d6344a"/>
<circle cx="496.9" cy="179.8" r="2.3" fill="#f9c283"/>
<circle cx="490.1" cy="179.8" r="2.3" fill="#f07848"/>
<circle cx="513.2" cy="183.7" r="2.3" fill="#f07848"/>
<circle cx="495.7" cy="184.3" r="2.3" fill="#4cb8a8"/>
<circle cx="492.3" cy="186.6" r="2.3" fill="#cde8c0"/>
<circle cx="499.1" cy="189.9" r="2.3" fill="#4cb8a8"/>
<circle cx="486.1" cy="189.4" r="2.3" fill="#d6344a"/>
<circle cx="482.6" cy="196.3" r="2.3" fill="#a8123f"/>
<circle cx="485.4" cy="193.5" r="2.3" fill="#d6344a"/>
<circle cx="498.4" cy="189.5" r="2.3" fill="#cde8c0"/>
<circle cx="470.2" cy="195.2" r="2.3" fill="#d6344a"/>
<circle cx="472.4" cy="201.4" r="2.3" fill="#f07848"/>
<circle cx="461.1" cy="205.9" r="2.3" fill="#a8123f"/>
<circle cx="537.6" cy="150.3" r="2.3" fill="#f3e3a0"/>
<circle cx="534.8" cy="153.6" r="2.3" fill="#22224e"/>
<circle cx="536.5" cy="157.0" r="2.3" fill="#a8123f"/>
<circle cx="532.0" cy="158.2" r="2.3" fill="#22224e"/>
<circle cx="529.7" cy="154.8" r="2.3" fill="#5a4ca0"/>
<circle cx="523.5" cy="157.0" r="2.3" fill="#f9c283"/>
<circle cx="527.4" cy="160.4" r="2.3" fill="#f07848"/>
<circle cx="515.6" cy="156.5" r="2.3" fill="#3a80c0"/>
<circle cx="519.5" cy="163.8" r="2.3" fill="#cde8c0"/>
<circle cx="528.6" cy="168.3" r="2.3" fill="#4cb8a8"/>
<circle cx="528.0" cy="172.3" r="2.3" fill="#3d0a24"/>
<circle cx="532.3" cy="142.9" r="2.3" fill="#d6344a"/>
<circle cx="529.4" cy="142.4" r="2.3" fill="#3a80c0"/>
<circle cx="534.8" cy="145.3" r="2.3" fill="#5a4ca0"/>
<circle cx="520.9" cy="145.8" r="2.3" fill="#22224e"/>
<circle cx="518.0" cy="147.3" r="2.3" fill="#4cb8a8"/>
<circle cx="517.5" cy="150.3" r="2.3" fill="#22224e"/>
<circle cx="530.3" cy="146.8" r="2.3" fill="#a8123f"/>
<circle cx="532.3" cy="149.3" r="2.3" fill="#d6344a"/>
<circle cx="537.8" cy="149.8" r="2.3" fill="#f9c283"/>
<circle cx="506.8" cy="146.0" r="2.3" fill="#4cb8a8"/>
<circle cx="507.8" cy="153.9" r="2.3" fill="#4cb8a8"/>
<circle cx="519.7" cy="154.4" r="2.3" fill="#f9c283"/>
<circle cx="521.7" cy="156.9" r="2.3" fill="#f9c283"/>
<circle cx="509.8" cy="158.9" r="2.3" fill="#4cb8a8"/>
<circle cx="519.7" cy="160.8" r="2.3" fill="#d6344a"/>
<circle cx="504.9" cy="167.3" r="2.3" fill="#d6344a"/>
<circle cx="522.7" cy="165.8" r="2.3" fill="#f3e3a0"/>
<circle cx="500.4" cy="165.8" r="2.3" fill="#3d0a24"/>
<circle cx="523.2" cy="147.7" r="2.3" fill="#f3e3a0"/>
<circle cx="521.1" cy="150.7" r="2.3" fill="#22224e"/>
<circle cx="526.2" cy="151.5" r="2.3" fill="#f07848"/>
<circle cx="527.5" cy="149.8" r="2.3" fill="#f9c283"/>
<circle cx="530.4" cy="151.5" r="2.3" fill="#f9c283"/>
<circle cx="507.5" cy="153.2" r="2.3" fill="#3a80c0"/>
<circle cx="514.3" cy="156.2" r="2.3" fill="#22224e"/>
<circle cx="524.9" cy="155.3" r="2.3" fill="#f07848"/>
<circle cx="527.9" cy="156.6" r="2.3" fill="#f3e3a0"/>
<circle cx="533.0" cy="157.9" r="2.3" fill="#5a4ca0"/>
<circle cx="517.7" cy="157.0" r="2.3" fill="#3a80c0"/>
<circle cx="526.2" cy="157.9" r="2.3" fill="#3d0a24"/>
<circle cx="504.3" cy="169.7" r="2.3" fill="#3d0a24"/>
<circle cx="503.4" cy="174.8" r="2.3" fill="#d6344a"/>
<circle cx="492.8" cy="178.2" r="2.3" fill="#f07848"/>
<circle cx="495.8" cy="182.9" r="2.3" fill="#cde8c0"/>
<circle cx="490.7" cy="177.0" r="2.3" fill="#f9c283"/>
<rect x="53.50" y="3.50" width="295.30" height="238.00" fill="none" stroke="#111" stroke-width="1.2"/>
<line x1="53.50" y1="241.50" x2="53.50" y2="245.50" stroke="#111" stroke-width="1.2"/>
<line x1="53.50" y1="241.50" x2="49.50" y2="241.50" stroke="#111" stroke-width="1.2"/>
<line x1="96.90" y1="241.50" x2="96.90" y2="243.70" stroke="#111" stroke-width="1.2"/>
<line x1="53.50" y1="206.50" x2="51.30" y2="206.50" stroke="#111" stroke-width="1.2"/>
<line x1="140.30" y1="241.50" x2="140.30" y2="245.50" stroke="#111" stroke-width="1.2"/>
<line x1="53.50" y1="171.50" x2="49.50" y2="171.50" stroke="#111" stroke-width="1.2"/>
<line x1="183.70" y1="241.50" x2="183.70" y2="243.70" stroke="#111" stroke-width="1.2"/>
<line x1="53.50" y1="136.50" x2="51.30" y2="136.50" stroke="#111" stroke-width="1.2"/>
<line x1="227.10" y1="241.50" x2="227.10" y2="245.50" stroke="#111" stroke-width="1.2"/>
<line x1="53.50" y1="101.50" x2="49.50" y2="101.50" stroke="#111" stroke-width="1.2"/>
<line x1="270.50" y1="241.50" x2="270.50" y2="243.70" stroke="#111" stroke-width="1.2"/>
<line x1="53.50" y1="66.50" x2="51.30" y2="66.50" stroke="#111" stroke-width="1.2"/>
<line x1="313.90" y1="241.50" x2="313.90" y2="245.50" stroke="#111" stroke-width="1.2"/>
<line x1="53.50" y1="31.50" x2="49.50" y2="31.50" stroke="#111" stroke-width="1.2"/>
<rect x="409.50" y="7.90" width="295.10" height="238.40" fill="none" stroke="#222" stroke-width="1.1"/>
<line x1="409.50" y1="246.30" x2="409.50" y2="250.30" stroke="#222" stroke-width="1.1"/>
<line x1="409.50" y1="246.30" x2="405.50" y2="246.30" stroke="#222" stroke-width="1.1"/>
<line x1="452.98" y1="246.30" x2="452.98" y2="248.50" stroke="#222" stroke-width="1.1"/>
<line x1="409.50" y1="211.30" x2="407.30" y2="211.30" stroke="#222" stroke-width="1.1"/>
<line x1="496.45" y1="246.30" x2="496.45" y2="250.30" stroke="#222" stroke-width="1.1"/>
<line x1="409.50" y1="176.30" x2="405.50" y2="176.30" stroke="#222" stroke-width="1.1"/>
<line x1="539.92" y1="246.30" x2="539.92" y2="248.50" stroke="#222" stroke-width="1.1"/>
<line x1="409.50" y1="141.30" x2="407.30" y2="141.30" stroke="#222" stroke-width="1.1"/>
<line x1="583.40" y1="246.30" x2="583.40" y2="250.30" stroke="#222" stroke-width="1.1"/>
<line x1="409.50" y1="106.30" x2="405.50" y2="106.30" stroke="#222" stroke-width="1.1"/>
<line x1="626.88" y1="246.30" x2="626.88" y2="248.50" stroke="#222" stroke-width="1.1"/>
<line x1="409.50" y1="71.30" x2="407.30" y2="71.30" stroke="#222" stroke-width="1.1"/>
<line x1="670.35" y1="246.30" x2="670.35" y2="250.30" stroke="#222" stroke-width="1.1"/>
<line x1="409.50" y1="36.30" x2="405.50" y2="36.30" stroke="#222" stroke-width="1.1"/>
<rect x="226.5" y="11.5" width="112.0" height="34.0" fill="#fff" stroke="#111" stroke-width="1.1"/>
<line x1="227.8" y1="20.5" x2="257" y2="20.5" stroke="#111" stroke-width="1.25"/>
<line x1="283.6" y1="20.5" x2="313.5" y2="20.5" stroke="#1a1ad0" stroke-width="1.25"/>
<line x1="227.8" y1="36.6" x2="257" y2="36.6" stroke="#d02828" stroke-width="1.25"/>
<rect x="585.5" y="16.5" width="110.0" height="33.0" fill="#fff" stroke="#333" stroke-width="1.1"/>
<line x1="587" y1="24.8" x2="616.6" y2="24.8" stroke="#3a3a3a" stroke-width="1.35"/>
<line x1="640" y1="24.8" x2="669.6" y2="24.8" stroke="#3a4ec0" stroke-width="1.35"/>
<line x1="587" y1="41.2" x2="616.6" y2="41.2" stroke="#c43a3a" stroke-width="1.35"/>
<text x="259.72" y="24.69" font-family="Liberation Serif, serif" font-size="11.50" text-anchor="start" fill="#1a1a1a" stroke="#1a1a1a" stroke-width="0.15" textLength="21.63" lengthAdjust="spacingAndGlyphs">SD1</text>
<text x="315.37" y="24.69" font-family="Liberation Serif, serif" font-size="11.50" text-anchor="start" fill="#1a1a1a" stroke="#1a1a1a" stroke-width="0.15" textLength="21.20" lengthAdjust="spacingAndGlyphs">SD2</text>
<text x="259.86" y="41.14" font-family="Liberation Serif, serif" font-size="11.50" text-anchor="start" fill="#1a1a1a" stroke="#1a1a1a" stroke-width="0.15" textLength="72.22" lengthAdjust="spacingAndGlyphs">Fitting ellipse</text>
<text x="619.10" y="29.27" font-family="Liberation Serif, serif" font-size="11.50" text-anchor="start" fill="#1a1a1a" stroke="#1a1a1a" stroke-width="0.15" textLength="21.31" lengthAdjust="spacingAndGlyphs">SD1</text>
<text x="672.04" y="29.27" font-family="Liberation Serif, serif" font-size="11.50" text-anchor="start" fill="#1a1a1a" stroke="#1a1a1a" stroke-width="0.15" textLength="21.03" lengthAdjust="spacingAndGlyphs">SD2</text>
<text x="619.12" y="45.27" font-family="Liberation Serif, serif" font-size="11.50" text-anchor="start" fill="#1a1a1a" stroke="#1a1a1a" stroke-width="0.15" textLength="72.09" lengthAdjust="spacingAndGlyphs">Fitting ellispe</text>
<text x="45.34" y="34.09" font-family="Liberation Serif, serif" font-size="9.80" text-anchor="end" fill="#1a1a1a" stroke="#1a1a1a" stroke-width="0.15" textLength="21.67" lengthAdjust="spacingAndGlyphs">2000</text>
<text x="45.00" y="104.30" font-family="Liberation Serif, serif" font-size="9.80" text-anchor="end" fill="#1a1a1a" stroke="#1a1a1a" stroke-width="0.15" textLength="22.50" lengthAdjust="spacingAndGlyphs">1500</text>
<text x="45.32" y="174.37" font-family="Liberation Serif, serif" font-size="9.80" text-anchor="end" fill="#1a1a1a" stroke="#1a1a1a" stroke-width="0.15" textLength="22.65" lengthAdjust="spacingAndGlyphs">1000</text>
<text x="45.67" y="243.42" font-family="Liberation Sans, sans-serif" font-size="9.80" text-anchor="end" fill="#1a1a1a" stroke="#1a1a1a" stroke-width="0.15" textLength="16.63" lengthAdjust="spacingAndGlyphs">500</text>
<text x="53.55" y="256.38" font-family="Liberation Sans, sans-serif" font-size="9.80" text-anchor="middle" fill="#1a1a1a" stroke="#1a1a1a" stroke-width="0.15" textLength="16.84" lengthAdjust="spacingAndGlyphs">500</text>
<text x="140.14" y="256.38" font-family="Liberation Serif, serif" font-size="9.80" text-anchor="middle" fill="#1a1a1a" stroke="#1a1a1a" stroke-width="0.15" textLength="23.23" lengthAdjust="spacingAndGlyphs">1000</text>
<text x="227.13" y="256.38" font-family="Liberation Sans, sans-serif" font-size="9.80" text-anchor="middle" fill="#1a1a1a" stroke="#1a1a1a" stroke-width="0.15" textLength="22.42" lengthAdjust="spacingAndGlyphs">1500</text>
<text x="314.33" y="256.38" font-family="Liberation Sans, sans-serif" font-size="9.80" text-anchor="middle" fill="#1a1a1a" stroke="#1a1a1a" stroke-width="0.15" textLength="22.04" lengthAdjust="spacingAndGlyphs">2000</text>
<text x="401.11" y="38.44" font-family="Liberation Serif, serif" font-size="9.80" text-anchor="end" fill="#1a1a1a" stroke="#1a1a1a" stroke-width="0.15" textLength="21.64" lengthAdjust="spacingAndGlyphs">2000</text>
<text x="401.05" y="108.62" font-family="Liberation Serif, serif" font-size="9.80" text-anchor="end" fill="#1a1a1a" stroke="#1a1a1a" stroke-width="0.15" textLength="22.40" lengthAdjust="spacingAndGlyphs">1500</text>
<text x="401.02" y="178.63" font-family="Liberation Serif, serif" font-size="9.80" text-anchor="end" fill="#1a1a1a" stroke="#1a1a1a" stroke-width="0.15" textLength="22.59" lengthAdjust="spacingAndGlyphs">1000</text>
<text x="401.04" y="248.18" font-family="Liberation Sans, sans-serif" font-size="9.80" text-anchor="end" fill="#1a1a1a" stroke="#1a1a1a" stroke-width="0.15" textLength="16.65" lengthAdjust="spacingAndGlyphs">500</text>
<text x="409.06" y="261.81" font-family="Liberation Sans, sans-serif" font-size="9.80" text-anchor="middle" fill="#1a1a1a" stroke="#1a1a1a" stroke-width="0.15" textLength="15.91" lengthAdjust="spacingAndGlyphs">500</text>
<text x="495.74" y="261.81" font-family="Liberation Serif, serif" font-size="9.80" text-anchor="middle" fill="#1a1a1a" stroke="#1a1a1a" stroke-width="0.15" textLength="22.56" lengthAdjust="spacingAndGlyphs">1000</text>
<text x="582.82" y="261.81" font-family="Liberation Serif, serif" font-size="9.80" text-anchor="middle" fill="#1a1a1a" stroke="#1a1a1a" stroke-width="0.15" textLength="22.35" lengthAdjust="spacingAndGlyphs">1500</text>
<text x="669.99" y="261.81" font-family="Liberation Serif, serif" font-size="9.80" text-anchor="middle" fill="#1a1a1a" stroke="#1a1a1a" stroke-width="0.15" textLength="22.15" lengthAdjust="spacingAndGlyphs">2000</text>
<text x="149.07" y="270.49" font-family="Liberation Sans, sans-serif" font-size="11.30" text-anchor="start" fill="#222" stroke="#222" stroke-width="0.3" textLength="103.03" lengthAdjust="spacingAndGlyphs">(a)RRi Interval(ms)</text>
<text x="505.44" y="274.42" font-family="Liberation Serif, serif" font-size="11.20" text-anchor="start" fill="#222" stroke="#222" stroke-width="0.2" textLength="31.27" lengthAdjust="spacingAndGlyphs">(b)RR</text>
<text x="536.55" y="277.73" font-family="Liberation Serif, serif" font-size="7.50" text-anchor="start" fill="#222" stroke="#222" stroke-width="0.2" textLength="3.02" lengthAdjust="spacingAndGlyphs">i</text>
<text x="542.16" y="274.42" font-family="Liberation Serif, serif" font-size="11.20" text-anchor="start" fill="#222" stroke="#222" stroke-width="0.2" textLength="66.19" lengthAdjust="spacingAndGlyphs">Interval(ms)</text>
<text transform="translate(15.62,169.78) rotate(-90)" x="0" y="0" font-family="Liberation Serif, serif" font-size="10.80" text-anchor="start" fill="#222" textLength="14.56" lengthAdjust="spacingAndGlyphs">RR</text>
<text transform="translate(19.42,156.24) rotate(-90)" x="0" y="0" font-family="Liberation Serif, serif" font-size="8.30" text-anchor="start" fill="#222" textLength="13.40" lengthAdjust="spacingAndGlyphs">i+1</text>
<text transform="translate(15.62,141.92) rotate(-90)" x="0" y="0" font-family="Liberation Serif, serif" font-size="10.80" text-anchor="start" fill="#222" textLength="66.82" lengthAdjust="spacingAndGlyphs">Interval(ms)</text>
<text transform="translate(371.23,174.14) rotate(-90)" x="0" y="0" font-family="Liberation Serif, serif" font-size="10.80" text-anchor="start" fill="#222" textLength="14.11" lengthAdjust="spacingAndGlyphs">RR</text>
<text transform="translate(375.23,162.21) rotate(-90)" x="0" y="0" font-family="Liberation Serif, serif" font-size="8.00" text-anchor="start" fill="#222" textLength="14.03" lengthAdjust="spacingAndGlyphs">i+1</text>
<text transform="translate(371.23,146.83) rotate(-90)" x="0" y="0" font-family="Liberation Serif, serif" font-size="10.80" text-anchor="start" fill="#222" textLength="68.70" lengthAdjust="spacingAndGlyphs">Interval(ms)</text>
</svg>
</body></html>
